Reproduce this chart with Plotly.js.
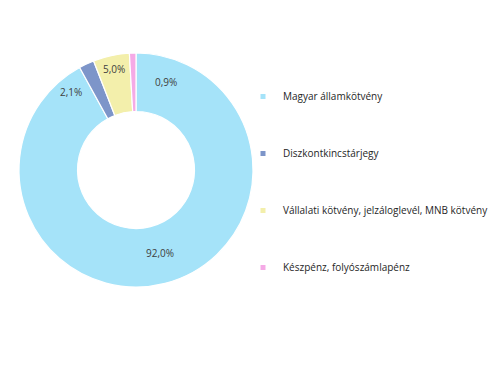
<!DOCTYPE html>
<html>
<head>
<meta charset="utf-8">
<script src="https://cdn.plot.ly/plotly-3.0.1.min.js"></script>
<style>html,body{margin:0;padding:0;background:#fff;}#chart{width:503px;height:375px;}</style>
</head>
<body>
<div id="chart"></div>
<script>
const categories = ["Magyar államkötvény", "Diszkontkincstárjegy", "Vállalati kötvény, jelzáloglevél, MNB kötvény", "Készpénz, folyószámlapénz"];
const values = [92.0, 2.1, 5.0, 0.9];
const valueLabels = ["92,0%", "2,1%", "5,0%", "0,9%"];
const colors = ["#a5e3f9", "#7d95c9", "#f3efab", "#f5aae6"];

const W = 503, H = 375;
const cx = 136, cy = 170, R = 117;
// label placement (angle offset in degrees, radius fraction)
const labelAngleOffset = [-1.7, -15, 0, 20.7];
const labelRadius = [0.74, 0.87, 0.88, 0.795];

const total = values.reduce((a, b) => a + b, 0);
let cum = 0;
const annotations = values.map((v, i) => {
  const mid = (cum + v / 2) / total * 360;
  cum += v;
  const th = (mid + labelAngleOffset[i]) * Math.PI / 180;
  const r = R * labelRadius[i];
  const px = cx + r * Math.sin(th), py = cy - r * Math.cos(th);
  return {x: px / W, y: 1 - py / H, xref: 'paper', yref: 'paper', text: valueLabels[i],
    showarrow: false, xanchor: 'center', yanchor: 'middle',
    font: {family: 'Open Sans, sans-serif', size: 10, color: '#404040'}};
});

const pie = {
  type: 'pie', values: values, labels: categories, sort: false, direction: 'clockwise', rotation: 0,
  hole: 0.5, textinfo: 'none', showlegend: false, hoverinfo: 'none',
  marker: {colors: colors, line: {color: '#ffffff', width: 1.2}},
  domain: {x: [(cx - R) / W, (cx + R) / W], y: [1 - (cy + R) / H, 1 - (cy - R) / H]}
};

const legendTraces = categories.map((c, i) => ({
  type: 'scatter', mode: 'markers', x: [null], y: [null], name: c,
  legendgroup: 'g' + i, showlegend: true, hoverinfo: 'none',
  marker: {symbol: 'square', size: 5, color: colors[i]}
}));

const layout = {
  width: W, height: H, margin: {l: 0, r: 0, t: 0, b: 0},
  paper_bgcolor: '#ffffff', plot_bgcolor: '#ffffff',
  xaxis: {visible: false}, yaxis: {visible: false},
  showlegend: true,
  legend: {x: 243 / W, y: 1 - 82 / H, xanchor: 'left', yanchor: 'top', tracegroupgap: 38,
    font: {family: 'Open Sans, sans-serif', size: 10, color: '#262626'}, bgcolor: 'rgba(0,0,0,0)'},
  annotations: annotations
};

Plotly.newPlot('chart', [pie].concat(legendTraces), layout, {displayModeBar: false, staticPlot: true});
</script>
</body>
</html>
